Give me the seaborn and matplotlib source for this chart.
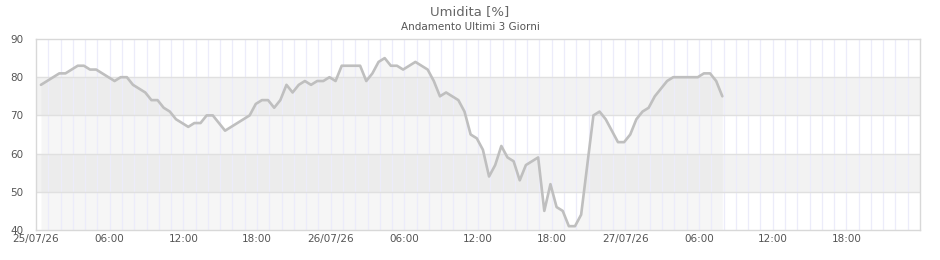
import numpy as np
import pandas as pd
import matplotlib
matplotlib.use("Agg")
import matplotlib.pyplot as plt
import seaborn as sns

# ---- data (half-hourly humidity readings, hours since 25/07/26 00:00) ----
start_hour = 0.4
step_hours = 0.5
humidity = [78, 79, 80, 81, 81, 82, 83, 83, 82, 82, 81, 80, 79, 80, 80, 78, 77, 76, 74,
            74, 72, 71, 69, 68, 67, 68, 68, 70, 70, 68, 66, 67, 68, 69, 70, 73, 74,
            74, 72, 74, 78, 76, 78, 79, 78, 79, 79, 80, 79, 83, 83, 83, 83, 79, 81, 84, 85,
            83, 83, 82, 83, 84, 83, 82, 79, 75, 76, 75, 74, 71, 65, 64, 61, 54, 57,
            62, 59, 58, 53, 57, 58, 59, 45, 52, 46, 45, 41, 41, 44, 57, 70, 71, 69, 66,
            63, 63, 65, 69, 71, 72, 75, 77, 79, 80, 80, 80, 80, 80, 81, 81, 79, 75]
hours = [start_hour + step_hours * i for i in range(len(humidity))]

tick_hours = [0, 6, 12, 18, 24, 30, 36, 42, 48, 54, 60, 66]
tick_labels = ["25/07/26", "06:00", "12:00", "18:00", "26/07/26", "06:00", "12:00",
               "18:00", "27/07/26", "06:00", "12:00", "18:00"]
y_ticks = [40, 50, 60, 70, 80, 90]
bands = [(50, 60), (70, 80)]

title = "Umidita [%]"
subtitle = "Andamento Ultimi 3 Giorni"

df = pd.DataFrame({"ora": hours, "umidita": humidity})

sns.set_style("white")
plt.rcParams["font.family"] = ["DejaVu Sans"]

fig = plt.figure(figsize=(9.4, 2.6), dpi=100)
ax = fig.add_axes([36 / 940, 1 - 230 / 260, (920 - 36) / 940, (230 - 39) / 260])

# horizontal bands
for lo, hi in bands:
    ax.axhspan(lo, hi, color="#f2f2f2", zorder=0, lw=0)

# area under line
ax.fill_between(df["ora"], df["umidita"], 40, color="#d6d6d6", alpha=0.2, lw=0, zorder=1)

# grid lines
for h in range(1, 72):
    ax.axvline(h, color="#ececfa", lw=0.9, zorder=2)
for v in [50, 60, 70, 80]:
    ax.axhline(v, color="#e0e0e0", lw=1.0, zorder=2)

sns.lineplot(data=df, x="ora", y="umidita", ax=ax, color="#bfbfbf", lw=1.9, zorder=3)

ax.set_xlim(0, 72)
ax.set_ylim(40, 90)
ax.set_xticks(tick_hours)
ax.set_xticklabels(tick_labels)
ax.set_yticks(y_ticks)
ax.set_xlabel("")
ax.set_ylabel("")
ax.tick_params(axis="both", length=0, labelsize=7.5, colors="#555555")
ax.tick_params(axis="y", pad=9)
ax.tick_params(axis="x", pad=3)
for s in ax.spines.values():
    s.set_color("#d8d8d8")
    s.set_linewidth(1.0)
    s.set_visible(True)

fig.text(0.5, 1 - 12 / 260, title, ha="center", va="center", fontsize=9.5, color="#666666")
fig.text(0.5, 1 - 27 / 260, subtitle, ha="center", va="center", fontsize=7.5, color="#555555")

fig.savefig("out.png", dpi=100, facecolor="white")
